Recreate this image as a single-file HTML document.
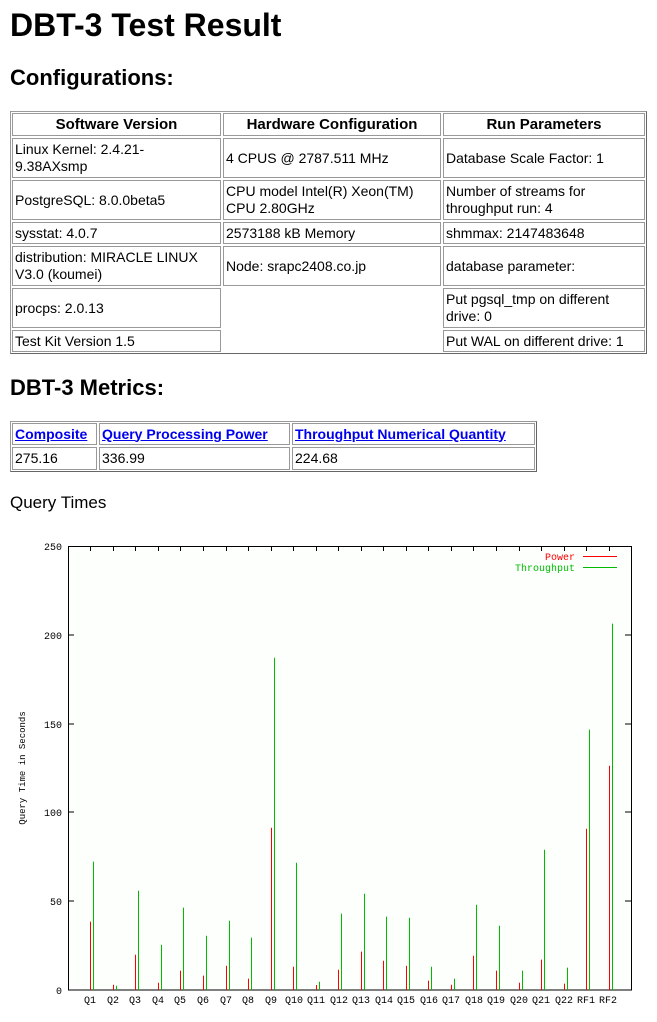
<!DOCTYPE html>
<html><head><meta charset="utf-8"><style>
body{margin:0;background:#fff;width:657px;height:1022px;position:relative;overflow:hidden;font-family:"Liberation Sans","Noto Sans CJK JP",sans-serif;color:#000}
.a{position:absolute}
h1{position:absolute;left:10px;top:7px;margin:0;font-size:32px;font-weight:bold}
h2{position:absolute;left:10px;margin:0;font-size:22px;font-weight:bold}
.c{position:absolute;border:1px solid #999;box-sizing:border-box;font-size:14px;line-height:17px;padding:1px 2px;display:flex;align-items:center}
.h{font-weight:bold;justify-content:center;font-size:15px}
.box{position:absolute;border:1px solid #999;border-right-color:#666;border-bottom-color:#666;box-sizing:border-box}
a{color:#00e;font-weight:bold;text-decoration:underline}
</style></head><body>
<h1>DBT-3 Test Result</h1>
<h2 style="top:65px">Configurations:</h2>
<div class="box" style="left:10px;top:111px;width:637px;height:243px"></div>
<div class="c h" style="left:12px;top:113px;width:209px;height:23px">Software Version</div>
<div class="c h" style="left:223px;top:113px;width:218px;height:23px">Hardware Configuration</div>
<div class="c h" style="left:443px;top:113px;width:202px;height:23px">Run Parameters</div>
<div class="c" style="left:12px;top:138px;width:209px;height:40px">Linux Kernel: 2.4.21-<br>9.38AXsmp</div>
<div class="c" style="left:223px;top:138px;width:218px;height:40px">4 CPUS @ 2787.511 MHz</div>
<div class="c" style="left:443px;top:138px;width:202px;height:40px">Database Scale Factor: 1</div>
<div class="c" style="left:12px;top:180px;width:209px;height:40px">PostgreSQL: 8.0.0beta5</div>
<div class="c" style="left:223px;top:180px;width:218px;height:40px">CPU model Intel(R) Xeon(TM)<br>CPU 2.80GHz</div>
<div class="c" style="left:443px;top:180px;width:202px;height:40px">Number of streams for<br>throughput run: 4</div>
<div class="c" style="left:12px;top:222px;width:209px;height:22px">sysstat: 4.0.7</div>
<div class="c" style="left:223px;top:222px;width:218px;height:22px">2573188 kB Memory</div>
<div class="c" style="left:443px;top:222px;width:202px;height:22px">shmmax: 2147483648</div>
<div class="c" style="left:12px;top:246px;width:209px;height:40px">distribution: MIRACLE LINUX<br>V3.0 (koumei)</div>
<div class="c" style="left:223px;top:246px;width:218px;height:40px">Node: srapc2408.co.jp</div>
<div class="c" style="left:443px;top:246px;width:202px;height:40px">database parameter:</div>
<div class="c" style="left:12px;top:288px;width:209px;height:40px">procps: 2.0.13</div>
<div class="c" style="left:443px;top:288px;width:202px;height:40px">Put pgsql_tmp on different<br>drive: 0</div>
<div class="c" style="left:12px;top:330px;width:209px;height:22px">Test Kit Version 1.5</div>
<div class="c" style="left:443px;top:330px;width:202px;height:22px">Put WAL on different drive: 1</div>

<h2 style="top:375px">DBT-3 Metrics:</h2>
<div class="box" style="left:10px;top:421px;width:527px;height:51px"></div>
<div class="c" style="left:12px;top:423px;width:85px;height:22px"><a>Composite</a></div>
<div class="c" style="left:99px;top:423px;width:191px;height:22px"><a>Query Processing Power</a></div>
<div class="c" style="left:292px;top:423px;width:243px;height:22px"><a>Throughput Numerical Quantity</a></div>
<div class="c" style="left:12px;top:447px;width:85px;height:23px">275.16</div>
<div class="c" style="left:99px;top:447px;width:191px;height:23px">336.99</div>
<div class="c" style="left:292px;top:447px;width:243px;height:23px">224.68</div>

<div class="a" style="left:10px;top:493px;font-size:17px">Query Times</div>

<svg class="a" style="left:0;top:0" width="657" height="1022" font-family="Liberation Mono,monospace" font-size="10">
<rect x="68.5" y="546.5" width="563" height="443.5" fill="#fcfffc" stroke="#000"/>
<g stroke="#000">
<path d="M68 635h6M68 724h6M68 812h6M68 901h6M631 635h-6M631 724h-6M631 812h-6M631 901h-6"/>
<path d="M90.5 546v5M113.5 546v5M135.5 546v5M158.5 546v5M180.5 546v5M203.5 546v5M226.5 546v5M248.5 546v5M271.5 546v5M293.5 546v5M316.5 546v5M338.5 546v5M361.5 546v5M383.5 546v5M406.5 546v5M428.5 546v5M451.5 546v5M473.5 546v5M496.5 546v5M519.5 546v5M541.5 546v5M564.5 546v5M586.5 546v5M609.5 546v5"/>
</g>
<g text-anchor="end">
<text x="62" y="550">250</text><text x="62" y="639">200</text><text x="62" y="728">150</text><text x="62" y="816">100</text><text x="62" y="905">50</text><text x="62" y="994">0</text>
</g>
<text transform="translate(25,768) rotate(-90)" text-anchor="middle" font-size="9">Query Time in Seconds</text>
<g text-anchor="middle">
<text x="90" y="1003">Q1</text><text x="113" y="1003">Q2</text><text x="135" y="1003">Q3</text><text x="158" y="1003">Q4</text><text x="180" y="1003">Q5</text><text x="203" y="1003">Q6</text><text x="226" y="1003">Q7</text><text x="248" y="1003">Q8</text><text x="271" y="1003">Q9</text><text x="294" y="1003">Q10</text><text x="316" y="1003">Q11</text><text x="339" y="1003">Q12</text><text x="361" y="1003">Q13</text><text x="384" y="1003">Q14</text><text x="406" y="1003">Q15</text><text x="429" y="1003">Q16</text><text x="451" y="1003">Q17</text><text x="474" y="1003">Q18</text><text x="496" y="1003">Q19</text><text x="519" y="1003">Q20</text><text x="541" y="1003">Q21</text><text x="564" y="1003">Q22</text><text x="586" y="1003">RF1</text><text x="608" y="1003">RF2</text>
</g>
<text x="575" y="560" text-anchor="end" fill="#f00">Power</text>
<path d="M583 556.5h34" stroke="#f00"/>
<text x="575" y="571" text-anchor="end" fill="#0b0">Throughput</text>
<path d="M583 567.5h34" stroke="#0b0"/>
<g stroke="#f00">
<path d="M90.5 990V921.6M113.5 990V984.7M135.5 990V954.7M158.5 990V982.7M180.5 990V970.6M203.5 990V975.6M226.5 990V965.7M248.5 990V978.6M271.5 990V827.7M293.5 990V966.7M316.5 990V985M338.5 990V969.8M361.5 990V951.6M383.5 990V960.7M406.5 990V965.7M428.5 990V980.6M451.5 990V984.7M473.5 990V955.7M496.5 990V970.6M519.5 990V982.7M541.5 990V959.6M564.5 990V983.6M586.5 990V828.7M609.5 990V765.7"/>
</g>
<g stroke="#0b0">
<path d="M93.5 990V861.6M116.5 990V985.7M138.5 990V890.7M161.5 990V944.7M183.5 990V907.6M206.5 990V935.7M229.5 990V920.7M251.5 990V937.6M274.5 990V657.7M296.5 990V862.7M319.5 990V981.7M341.5 990V913.6M364.5 990V893.7M386.5 990V916.6M409.5 990V917.7M431.5 990V966.7M454.5 990V978.6M476.5 990V904.8M499.5 990V925.7M522.5 990V970.6M544.5 990V849.7M567.5 990V967.6M589.5 990V729.6M612.5 990V623.6"/>
</g>
</svg>
</body></html>
